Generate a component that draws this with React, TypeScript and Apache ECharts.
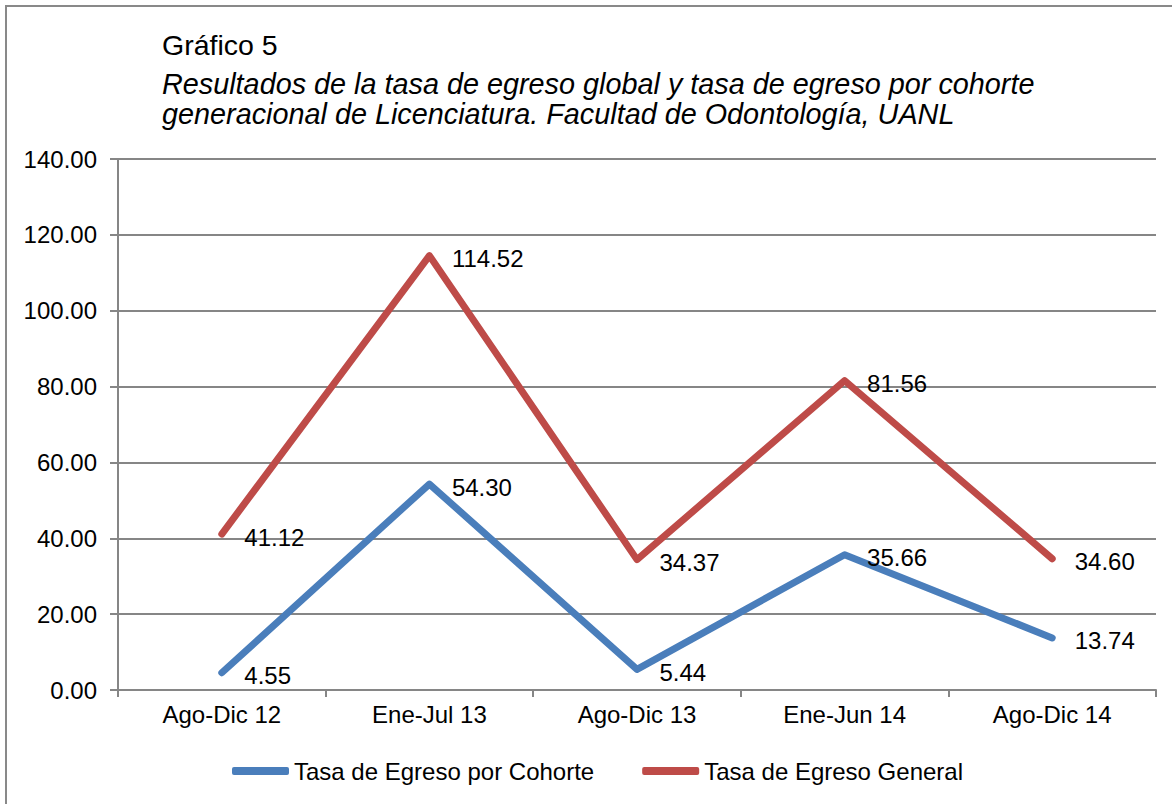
import React, { useEffect, useRef } from "react";
import * as echarts from "echarts";

const categories = ["Ago-Dic 12", "Ene-Jul 13", "Ago-Dic 13", "Ene-Jun 14", "Ago-Dic 14"];
const cohorte = [4.55, 54.3, 5.44, 35.66, 13.74];
const general = [41.12, 114.52, 34.37, 81.56, 34.6];
const seriesNames = ["Tasa de Egreso por Cohorte", "Tasa de Egreso General"];
const titleText = "Gráfico 5";
const subtitleText =
  "Resultados de la tasa de egreso global y tasa de egreso por cohorte\ngeneracional de Licenciatura. Facultad de Odontología, UANL";

const FONT = "'Liberation Sans', Arial, sans-serif";

export default function App() {
  const ref = useRef<HTMLDivElement>(null);
  useEffect(() => {
    if (!ref.current) return;
    const chart = echarts.init(ref.current, null, { renderer: "svg" });
    const labelCfg = {
      show: true,
      position: "right",
      distance: 22,
      offset: [0, 3],
      color: "#000",
      fontSize: 24,
      fontFamily: FONT,
      formatter: (p: any) => Number(p.value).toFixed(2),
    };
    chart.setOption({
      animation: false,
      backgroundColor: "#fff",
      textStyle: { fontFamily: FONT },
      graphic: [
        {
          type: "rect",
          shape: { x: 6, y: 6, width: 1300, height: 1000 },
          style: { fill: "none", stroke: "#898989", lineWidth: 2 },
          silent: true,
          z: -1,
        },
      ],
      title: [
        {
          text: titleText,
          left: 157,
          top: 25,
          textStyle: { fontSize: 28.5, fontWeight: "normal", color: "#000", fontFamily: FONT, lineHeight: 30 },
        },
        {
          text: subtitleText,
          left: 157,
          top: 64,
          textStyle: {
            fontSize: 28.8,
            fontStyle: "italic",
            fontWeight: "normal",
            color: "#000",
            fontFamily: FONT,
            lineHeight: 30,
          },
        },
      ],
      legend: {
        bottom: 21,
        left: 232,
        padding: 0,
        itemWidth: 57,
        itemHeight: 8,
        itemGap: 48,
        icon: "roundRect",
        textStyle: { fontSize: 24, color: "#000", fontFamily: FONT },
        data: seriesNames,
      },
      grid: { left: 118, right: 16, top: 159, bottom: 114, outerBoundsMode: "none" },
      xAxis: {
        type: "category",
        data: categories,
        boundaryGap: true,
        axisLine: { lineStyle: { color: "#868686", width: 2 } },
        axisTick: { show: true, length: 7, lineStyle: { color: "#868686", width: 2 } },
        axisLabel: { color: "#000", fontSize: 24, fontFamily: FONT, margin: 12 },
      },
      yAxis: {
        type: "value",
        min: 0,
        max: 140,
        interval: 20,
        axisLine: { show: true, lineStyle: { color: "#868686", width: 2 } },
        axisTick: { show: true, length: 8, lineStyle: { color: "#868686", width: 2 } },
        splitLine: { lineStyle: { color: "#868686", width: 2 } },
        axisLabel: {
          color: "#000",
          fontSize: 24,
          fontFamily: FONT,
          margin: 21,
          formatter: (v: number) => v.toFixed(2),
        },
      },
      series: [
        {
          name: seriesNames[0],
          type: "line",
          data: cohorte,
          color: "#4A7EBB",
          symbol: "circle",
          symbolSize: 1,
          lineStyle: { width: 7, color: "#4A7EBB", cap: "round", join: "round" },
          label: labelCfg,
        },
        {
          name: seriesNames[1],
          type: "line",
          data: general,
          color: "#BE4B48",
          symbol: "circle",
          symbolSize: 1,
          lineStyle: { width: 7, color: "#BE4B48", cap: "round", join: "round" },
          label: labelCfg,
        },
      ],
    });
    return () => chart.dispose();
  }, []);
  return (
    <div
      ref={ref}
      style={{ position: "fixed", left: 0, top: 0, width: 1172, height: 804 }}
    />
  );
}
